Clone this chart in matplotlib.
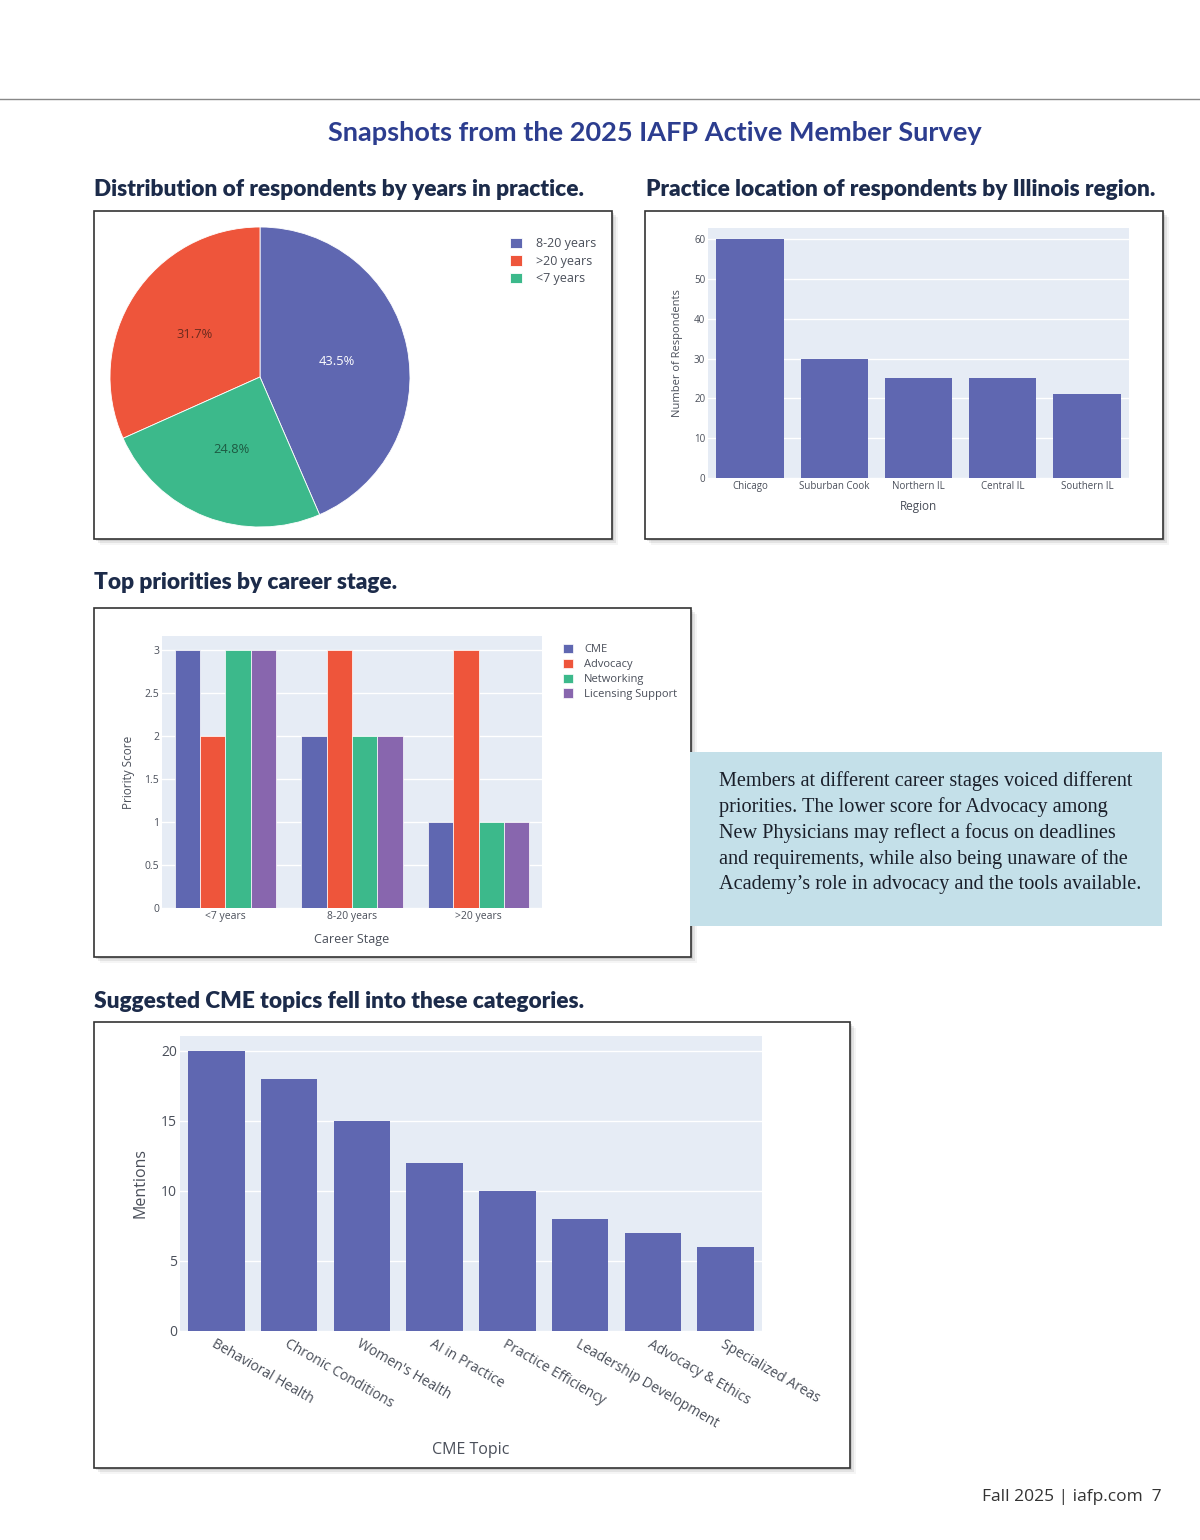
import matplotlib
matplotlib.use("Agg")
import matplotlib.pyplot as plt
from matplotlib.patches import Rectangle
from matplotlib.lines import Line2D
import numpy as np

# ---------------- data ----------------
pie_labels = ['8-20 years', '>20 years', '<7 years']
pie_values = [43.5, 31.7, 24.8]

regions = ['Chicago', 'Suburban Cook', 'Northern IL', 'Central IL', 'Southern IL']
region_counts = [60, 30, 25, 25, 21]

stages = ['<7 years', '8-20 years', '>20 years']
priority_names = ['CME', 'Advocacy', 'Networking', 'Licensing Support']
prio_cme = [3, 2, 1]
prio_advocacy = [2, 3, 3]
prio_networking = [3, 2, 1]
prio_licensing = [3, 2, 1]

topics = ['Behavioral Health', 'Chronic Conditions', "Women's Health", 'AI in Practice',
          'Practice Efficiency', 'Leadership Development', 'Advocacy & Ethics', 'Specialized Areas']
topic_mentions = [20, 18, 15, 12, 10, 8, 7, 6]

# ---------------- style ----------------
W, H = 1200, 1540
BLUE = '#5f67b1'
RED = '#ee553b'
GREEN = '#3cb98b'
PURPLE = '#8866ae'
BG = '#e6ecf5'
TXT = '#4a4f5a'
NAVY = '#1c2b4a'
SANS = ['Open Sans', 'DejaVu Sans']

fig = plt.figure(figsize=(W / 100, H / 100), dpi=100)
fig.patch.set_facecolor('white')


def fx(x):
    return x / W


def fy(y):
    return 1 - y / H


def add_ax(x0, y0, x1, y1, **kw):
    ax = fig.add_axes([x0 / W, 1 - y1 / H, (x1 - x0) / W, (y1 - y0) / H], **kw)
    ax.set_zorder(5)
    return ax


def panel(x0, y0, x1, y1):
    # shadow
    for i, a in enumerate([0.10, 0.07, 0.04]):
        d = 2 + i * 2
        fig.patches.append(Rectangle((fx(x0 + d), fy(y1 + d)), (x1 - x0) / W, (y1 - y0) / H,
                                     transform=fig.transFigure, facecolor='#000000', alpha=a,
                                     edgecolor='none', zorder=-3))
    fig.patches.append(Rectangle((fx(x0), fy(y1)), (x1 - x0) / W, (y1 - y0) / H,
                                 transform=fig.transFigure, facecolor='white',
                                 edgecolor='#333333', linewidth=1.2, zorder=-2))


def style_bar_ax(ax, fs):
    ax.set_facecolor(BG)
    for s in ax.spines.values():
        s.set_visible(False)
    ax.tick_params(length=0, labelsize=fs, colors=TXT)
    ax.grid(axis='y', color='white', linewidth=1.0)
    ax.set_axisbelow(True)
    for t in ax.get_xticklabels() + ax.get_yticklabels():
        t.set_family(SANS)


# header line
fig.add_artist(Line2D([0, 1], [fy(99), fy(99)], transform=fig.transFigure, color='#888888', lw=1))

fig.text(fx(655), fy(133), 'Snapshots from the 2025 IAFP Active Member Survey', ha='center', va='center',
         fontsize=19.5, fontweight='bold', color='#2c3d8f', family=['Lato', 'DejaVu Sans'])

for (x, y, s) in [(94, 190, 'Distribution of respondents by years in practice.'),
                  (646, 190, 'Practice location of respondents by Illinois region.'),
                  (94, 582, 'Top priorities by career stage.'),
                  (94, 1001, 'Suggested CME topics fell into these categories.')]:
    fig.text(fx(x), fy(y), s, ha='left', va='center', fontsize=16.3, fontweight='heavy',
             color=NAVY, family=['Lato', 'DejaVu Sans'])

# ---------------- panel 1: pie ----------------
panel(94, 211, 612, 539)
axp = add_ax(110, 227, 410, 527)
start = 90 - 3.6 * pie_values[0]
wedges, texts, autotexts = axp.pie(pie_values, colors=[BLUE, RED, GREEN], startangle=start,
                                   counterclock=True, autopct='%1.1f%%', pctdistance=0.52,
                                   wedgeprops=dict(edgecolor='white', linewidth=0.6),
                                   textprops=dict(fontsize=9.3, family=SANS))
axp.set_xlim(-1, 1)
axp.set_ylim(-1, 1)
axp.set_aspect('equal')
for t, c in zip(autotexts, ['white', '#6b2a1e', '#1d5a42']):
    t.set_color(c)
leg1 = fig.legend(wedges, pie_labels, loc='upper left', bbox_to_anchor=(fx(499), fy(226)),
                  frameon=False, handlelength=0.9, handleheight=0.9, handletextpad=1.2,
                  labelspacing=0.35, labelcolor=TXT, prop=dict(family=SANS, size=9))
leg1.set_zorder(6)

# ---------------- panel 2: regions ----------------
panel(645, 211, 1163, 539)
ax2 = add_ax(708, 228, 1129, 478)
ax2.bar(regions, region_counts, color=BLUE, width=0.8)
ax2.set_xlim(-0.5, len(regions) - 0.5)
ax2.set_ylim(0, 62.8)
ax2.set_yticks([0, 10, 20, 30, 40, 50, 60])
style_bar_ax(ax2, 7)
ax2.tick_params(axis='x', pad=2)
ax2.tick_params(axis='y', pad=2)
ax2.set_xlabel('Region', fontsize=8.5, color=TXT, family=SANS, labelpad=6)
ax2.set_ylabel('Number of Respondents', fontsize=8, color=TXT, family=SANS, labelpad=8)

# ---------------- panel 3: priorities ----------------
panel(94, 608, 691, 957)
ax3 = add_ax(162, 636, 542, 908)
xs = np.arange(len(stages))
bw = 0.2
series = [prio_cme, prio_advocacy, prio_networking, prio_licensing]
cols = [BLUE, RED, GREEN, PURPLE]
handles = []
for i, (vals, c) in enumerate(zip(series, cols)):
    b = ax3.bar(xs + (i - 1.5) * bw, vals, width=bw, color=c, edgecolor='white', linewidth=0.5)
    handles.append(b)
ax3.set_xticks(xs)
ax3.set_xticklabels(stages)
ax3.set_xlim(-0.5, 2.5)
ax3.set_ylim(0, 3.16)
ax3.set_yticks([0, 0.5, 1, 1.5, 2, 2.5, 3])
ax3.set_yticklabels(['0', '0.5', '1', '1.5', '2', '2.5', '3'])
style_bar_ax(ax3, 7.5)
ax3.tick_params(axis='y', pad=2)
ax3.tick_params(axis='x', pad=2)
ax3.set_xlabel('Career Stage', fontsize=9, color=TXT, family=SANS, labelpad=8)
ax3.set_ylabel('Priority Score', fontsize=8.5, color=TXT, family=SANS, labelpad=7)
leg3 = fig.legend(handles, priority_names, loc='upper left', bbox_to_anchor=(fx(553), fy(634)),
                  frameon=False, handlelength=0.9, handleheight=0.9, handletextpad=1.0,
                  labelspacing=0.3, labelcolor=TXT, prop=dict(family=SANS, size=8))
leg3.set_zorder(6)

# text box
fig.patches.append(Rectangle((fx(690), fy(926)), (1162 - 690) / W, (926 - 752) / H,
                             transform=fig.transFigure, facecolor='#c4e0e9', edgecolor='none', zorder=-1))
box_text = ("Members at different career stages voiced different\n"
            "priorities. The lower score for Advocacy among\n"
            "New Physicians may reflect a focus on deadlines\n"
            "and requirements, while also being unaware of the\n"
            "Academy\u2019s role in advocacy and the tools available.")
fig.text(fx(719), fy(771), box_text, ha='left', va='top', fontsize=14.6, color='#1a1f2a',
         family=['Liberation Serif', 'DejaVu Serif'], linespacing=1.42)

# ---------------- panel 4: CME topics ----------------
panel(94, 1022, 850, 1468)
ax4 = add_ax(180, 1036, 762, 1331)
ax4.bar(topics, topic_mentions, color=BLUE, width=0.78)
ax4.set_xlim(-0.5, len(topics) - 0.5)
ax4.set_ylim(0, 21.07)
ax4.set_yticks([0, 5, 10, 15, 20])
style_bar_ax(ax4, 10)
ax4.tick_params(axis='y', pad=2)
ax4.tick_params(axis='x', pad=4)
for t in ax4.get_xticklabels():
    t.set_rotation(-30)
    t.set_ha('left')
    t.set_va('top')
    t.set_rotation_mode('anchor')
ax4.set_xlabel('CME Topic', fontsize=11.5, color=TXT, family=SANS, labelpad=8)
ax4.set_ylabel('Mentions', fontsize=11.5, color=TXT, family=SANS, labelpad=9)

# footer
fig.text(fx(1162), fy(1497), 'Fall 2025 | iafp.com  7', ha='right', va='center', fontsize=12.5,
         color='#333333', family=['Open Sans', 'DejaVu Sans'])

fig.savefig('out.png', dpi=100, facecolor='white')
